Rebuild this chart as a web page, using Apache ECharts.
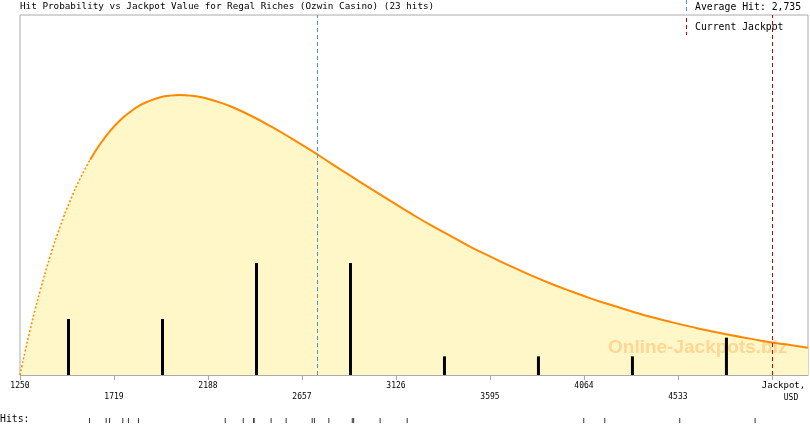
<!DOCTYPE html>
<html><head><meta charset="utf-8">
<script src="https://cdn.jsdelivr.net/npm/echarts@6/dist/echarts.min.js"></script>
<style>html,body{margin:0;padding:0;background:#fff}#c{width:810px;height:425px}</style>
</head><body><div id="c"></div>
<script>
const titleText = 'Hit Probability vs Jackpot Value for Regal Riches (Ozwin Casino) (23 hits)';
const axisTicks = [1250, 1719, 2188, 2657, 3126, 3595, 4064, 4533, 5002];
const axisMin = 1250;
const axisMax = 5182;
const binCenters = [1492, 1961, 2430, 2899, 3368, 3837, 4306, 4775];
const binCounts = [3, 3, 6, 6, 1, 1, 1, 2];
const hitValues = [1597, 1680, 1697, 1763, 1791, 1841, 2274, 2364, 2417, 2417, 2503, 2578,
  2708, 2719, 2791, 2908, 2915, 3047, 3182, 4063, 4168, 4542, 4918];
const curveX = [1250,1260,1275,1300,1325,1350,1400,1450,1500,1550,1600,1650,1700,1750,1800,1850,1900,1950,
  2000,2050,2100,2150,2200,2250,2300,2400,2500,2600,2700,2800,2900,3000,3100,3200,3300,3400,3500,3600,3700,
  3800,3900,4000,4100,4200,4300,4400,4500,4600,4700,4800,4900,5000,5100,5182];
const curveY = [0,3.4,8.3,16.0,23.3,30.0,42.3,53.0,62.2,70.2,76.9,82.5,87.2,91.0,94.0,96.4,98.0,99.2,
  99.8,100,99.8,99.3,98.4,97.3,96.0,92.7,88.9,84.7,80.3,75.7,71.1,66.6,62.1,57.7,53.5,49.6,45.7,42.2,38.8,
  35.6,32.6,29.9,27.3,25.0,22.8,20.7,18.9,17.2,15.6,14.2,12.9,11.6,10.6,9.7];
const averageHit = 2735;
const currentJackpot = 5006;
const dottedUntil = 1600;

const mono = 'DejaVu Sans Mono';
const curvePts = curveX.map((x, i) => [x, curveY[i]]);
const chart = echarts.init(document.getElementById('c'));
chart.setOption({
  animation: false,
  grid: [
    {left: 20, right: 2, top: 15, bottom: 50, show: true, borderColor: '#aaaaaa', borderWidth: 1},
    {left: 20, right: 2, top: 418, height: 5, show: false}
  ],
  xAxis: [
    {type: 'value', gridIndex: 0, min: axisMin, max: axisMax,
      axisLine: {lineStyle: {color: '#aaaaaa'}},
      axisTick: {show: true, length: 5, lineStyle: {color: '#aaaaaa'}, customValues: axisTicks},
      axisLabel: {customValues: axisTicks.slice(0, 8), color: '#000', fontFamily: mono, fontSize: 8,
        margin: 5, lineHeight: 11.5,
        formatter: v => (axisTicks.indexOf(v) % 2 ? '\n' + v : String(v))},
      splitLine: {show: false}},
    {type: 'value', gridIndex: 1, min: axisMin, max: axisMax, show: false}
  ],
  yAxis: [
    {type: 'value', gridIndex: 0, min: 0, max: 128.6, show: false},
    {type: 'value', gridIndex: 0, min: 0, max: 19.29, show: false},
    {type: 'value', gridIndex: 1, min: 0, max: 1, show: false}
  ],
  series: [
    {type: 'line', xAxisIndex: 0, yAxisIndex: 0, data: curvePts, smooth: true, symbol: 'none', z: 1,
      lineStyle: {width: 0, opacity: 0}, areaStyle: {color: '#fff7c7', opacity: 1}},
    {type: 'line', xAxisIndex: 0, yAxisIndex: 0, data: curvePts.filter(p => p[0] <= dottedUntil),
      smooth: true, symbol: 'none', z: 4, lineStyle: {color: '#ff8800', width: 1.5, type: [2, 2]}},
    {type: 'line', xAxisIndex: 0, yAxisIndex: 0, data: curvePts.filter(p => p[0] >= dottedUntil),
      smooth: true, symbol: 'none', z: 4, lineStyle: {color: '#ff8800', width: 2}},
    {type: 'bar', xAxisIndex: 0, yAxisIndex: 1, data: binCenters.map((x, i) => [x, binCounts[i]]),
      barWidth: 3, itemStyle: {color: '#000'}, z: 3,
      markLine: {silent: true, symbol: 'none', label: {show: false}, z: 5,
        data: [
          {xAxis: averageHit, lineStyle: {color: '#4a96c8', width: 1, type: [4, 3]}},
          {xAxis: currentJackpot, lineStyle: {color: '#cc0000', width: 1, type: [4, 3]}}
        ]}},
    {type: 'scatter', xAxisIndex: 1, yAxisIndex: 2, data: hitValues.map(v => [v, 0.5]),
      symbol: 'rect', symbolSize: [1, 5], itemStyle: {color: '#000'}}
  ],
  graphic: [
    {type: 'text', x: 20, y: 7, z: 10, style: {text: titleText, font: '9.3px ' + mono, fill: '#000', verticalAlign: 'middle'}},
    {type: 'line', z: 10, shape: {x1: 686.5, y1: 0, x2: 686.5, y2: 12}, style: {stroke: '#4a96c8', lineWidth: 1, lineDash: [4, 3]}},
    {type: 'text', x: 695, y: 7, z: 10, style: {text: 'Average Hit: ' + averageHit.toLocaleString('en-US'), font: '9.8px ' + mono, fill: '#000', verticalAlign: 'middle'}},
    {type: 'line', z: 10, shape: {x1: 686.5, y1: 18, x2: 686.5, y2: 35}, style: {stroke: '#cc0000', lineWidth: 1, lineDash: [4, 3]}},
    {type: 'text', x: 695, y: 27, z: 10, style: {text: 'Current Jackpot', font: '9.8px ' + mono, fill: '#000', verticalAlign: 'middle'}},
    {type: 'text', x: 783.5, y: 386, z: 10, style: {text: 'Jackpot,', font: '9px ' + mono, fill: '#000', align: 'center', verticalAlign: 'middle'}},
    {type: 'text', x: 791, y: 397.5, z: 10, style: {text: 'USD', font: '8px ' + mono, fill: '#000', align: 'center', verticalAlign: 'middle'}},
    {type: 'text', x: 0, y: 419, z: 10, style: {text: 'Hits:', font: '9.8px ' + mono, fill: '#000', verticalAlign: 'middle'}},
    {type: 'text', x: 608, y: 348, z: 2, style: {text: 'Online-Jackpots.biz', font: 'bold 19px "Liberation Sans"', fill: 'rgba(255,160,60,0.38)', verticalAlign: 'middle'}}
  ]
});
</script></body></html>
